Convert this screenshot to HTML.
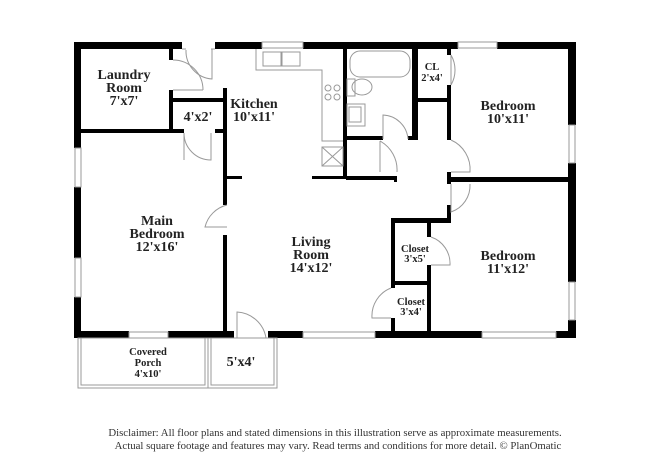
<!DOCTYPE html>
<html><head><meta charset="utf-8"><style>
html,body{margin:0;padding:0;background:#fff;width:650px;height:473px;overflow:hidden}
svg{display:block}
text{font-family:"Liberation Serif",serif;font-weight:bold;fill:#222;text-anchor:middle}
.f{font-weight:normal;font-size:10.8px;fill:#333}
</style></head><body>
<svg width="650" height="473" viewBox="0 0 650 473" xmlns="http://www.w3.org/2000/svg">
<g fill="#000">
<rect x="74" y="42" width="108" height="7"/>
<rect x="215" y="42" width="47" height="7"/>
<rect x="303" y="42" width="155" height="7"/>
<rect x="497" y="42" width="79" height="7"/>
<rect x="74" y="42" width="7" height="106"/>
<rect x="74" y="187" width="7" height="71"/>
<rect x="74" y="297" width="7" height="41"/>
<rect x="568" y="42" width="8" height="83"/>
<rect x="568" y="163" width="8" height="119"/>
<rect x="568" y="320" width="8" height="18"/>
<rect x="74" y="331" width="55" height="7"/>
<rect x="168" y="331" width="66" height="7"/>
<rect x="268" y="331" width="35" height="7"/>
<rect x="375" y="331" width="107" height="7"/>
<rect x="556" y="331" width="20" height="7"/>
<rect x="169" y="42" width="4" height="18"/>
<rect x="169" y="90" width="4" height="42"/>
<rect x="80" y="129" width="104" height="4"/>
<rect x="215" y="129" width="10" height="4"/>
<rect x="170" y="98" width="55" height="4"/>
<rect x="223" y="88" width="4" height="117"/>
<rect x="223" y="235" width="4" height="97"/>
<rect x="226" y="176" width="16" height="3"/>
<rect x="343" y="49" width="4" height="130"/>
<rect x="312" y="176" width="33" height="3"/>
<rect x="346" y="136" width="37" height="4"/>
<rect x="408" y="136" width="10" height="4"/>
<rect x="412" y="49" width="6" height="91"/>
<rect x="346" y="176" width="51" height="4"/>
<rect x="394" y="176" width="3" height="6"/>
<rect x="414" y="98" width="37" height="4"/>
<rect x="447" y="49" width="4" height="6"/>
<rect x="447" y="85" width="4" height="55"/>
<rect x="447" y="172" width="4" height="12"/>
<rect x="447" y="177" width="121" height="5"/>
<rect x="447" y="205" width="4" height="18"/>
<rect x="393" y="218" width="58" height="5"/>
<rect x="427" y="218" width="4" height="19"/>
<rect x="427" y="265" width="4" height="67"/>
<rect x="391" y="218" width="4" height="70"/>
<rect x="391" y="318" width="4" height="14"/>
<rect x="391" y="281" width="40" height="4"/>
</g>
<g fill="none" stroke="#999" stroke-width="1">
<rect x="262" y="42" width="41" height="6"/>
<rect x="458" y="42" width="39" height="6"/>
<rect x="569" y="125" width="6" height="38"/>
<rect x="569" y="282" width="6" height="38"/>
<rect x="75" y="148" width="6" height="39"/>
<rect x="75" y="258" width="6" height="39"/>
<rect x="129" y="332" width="39" height="6"/>
<rect x="303" y="332" width="72" height="6"/>
<rect x="482" y="332" width="74" height="6"/>
<rect x="78" y="338" width="130" height="50"/>
<rect x="81" y="338" width="124" height="47"/>
<rect x="208" y="338" width="69" height="50"/>
<rect x="211" y="338" width="63" height="47"/>
<path d="M256 49 V70 H322 V141 H343"/>
<rect x="263" y="52" width="18" height="14"/><rect x="282" y="52" width="18" height="14"/>
<circle cx="328" cy="88" r="3"/><circle cx="337" cy="88" r="3"/><circle cx="328" cy="97" r="3"/><circle cx="337" cy="97" r="3"/>
<path d="M322 147 H343 V166 H322 Z M322 147 L343 166 M343 147 L322 166"/>
<rect x="350" y="51" width="60" height="26" rx="10"/>
<rect x="347" y="79" width="8" height="17"/><ellipse cx="362" cy="87" rx="10" ry="8"/>
<rect x="347" y="104" width="18" height="22"/><rect x="349" y="107" width="12" height="15"/>
<path d="M182 49 H186 M211 49 H215 M212 49 V79 A28 28 0 0 1 186 50"/>
<path d="M173 60 A30 30 0 0 1 203 90 M173 90 H203"/>
<path d="M184 133 V160 M184 133 A27 27 0 0 0 211 160 L211 133"/>
<path d="M227 205 A30 30 0 0 0 205 227 L227 227"/>
<path d="M237 338 V312 A31 31 0 0 1 266 338"/>
<path d="M383 139 L383 115 A26 26 0 0 1 408 139"/>
<path d="M380 141 A33 33 0 0 1 397 172 M380 141 V172"/>
<path d="M451 55 A30 30 0 0 1 451 85 M451 55 V85"/>
<path d="M451 140 A32 32 0 0 1 470 172 L451 172"/>
<path d="M451 184 V212 A28 28 0 0 0 470 184"/>
<path d="M431 237 A28 28 0 0 1 450 265 L431 265"/>
<path d="M391 288 A30 30 0 0 0 372 318 L391 318"/>
</g>
<g font-size="14">
<text x="124" y="79">Laundry</text><text x="124" y="92">Room</text><text x="124" y="105">7'x7'</text>
<text x="254" y="108">Kitchen</text><text x="254" y="121">10'x11'</text>
<text x="198" y="121">4'x2'</text>
<text x="157" y="225">Main</text><text x="157" y="238">Bedroom</text><text x="157" y="251">12'x16'</text>
<text x="311" y="246">Living</text><text x="311" y="259">Room</text><text x="311" y="272">14'x12'</text>
<text x="508" y="110">Bedroom</text><text x="508" y="123">10'x11'</text>
<text x="508" y="260">Bedroom</text><text x="508" y="273">11'x12'</text>
<text x="241" y="366">5'x4'</text>
</g>
<g font-size="10.5">
<text x="432" y="70">CL</text><text x="432" y="81">2'x4'</text>
<text x="415" y="252">Closet</text><text x="415" y="262">3'x5'</text>
<text x="411" y="305">Closet</text><text x="411" y="315">3'x4'</text>
<text x="148" y="355">Covered</text><text x="148" y="366">Porch</text><text x="148" y="377">4'x10'</text>
</g>
<text class="f" x="335" y="436">Disclaimer: All floor plans and stated dimensions in this illustration serve as approximate measurements.</text>
<text class="f" x="338" y="449">Actual square footage and features may vary. Read terms and conditions for more detail. © PlanOmatic</text>
</svg>
</body></html>
